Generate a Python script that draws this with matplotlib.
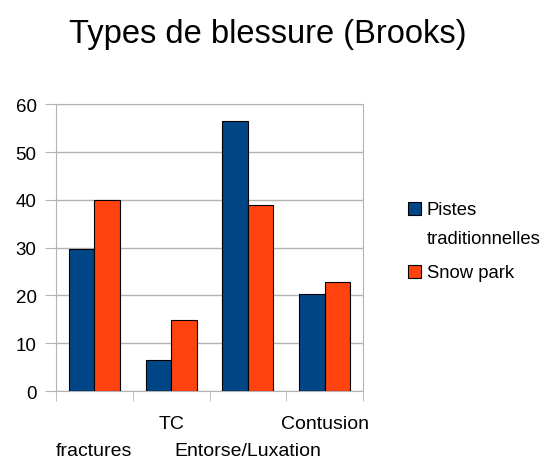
import matplotlib.pyplot as plt
from matplotlib.patches import Rectangle
import numpy as np

plt.rcParams['font.family'] = ['Liberation Sans', 'DejaVu Sans']

categories = ["fractures", "TC", "Entorse/Luxation", "Contusion"]
pistes = [29.8, 6.6, 56.4, 20.3]
snow_park = [39.9, 14.8, 39.0, 22.9]
series_labels = ["Pistes\ntraditionnelles", "Snow park"]
yticks = [0, 10, 20, 30, 40, 50, 60]

BLUE = "#004586"
ORANGE = "#ff420e"
GRID = "#b3b3b3"

fig = plt.figure(figsize=(5.47, 4.64), dpi=100)
ax = fig.add_axes([0.1024, 0.155, 0.5612, 0.6183])

x = np.arange(len(categories))
w = 0.333
ax.bar(x - w / 2, pistes, w, color=BLUE, edgecolor="black", linewidth=0.8, zorder=3)
ax.bar(x + w / 2, snow_park, w, color=ORANGE, edgecolor="black", linewidth=0.8, zorder=3)

ax.set_xlim(-0.5, len(categories) - 0.5)
ax.set_ylim(0, 60)
ax.set_yticks(yticks)
ax.yaxis.grid(True, color=GRID, linewidth=1, zorder=0)
ax.tick_params(axis="y", direction="out", length=8, color=GRID, labelsize=13.5, pad=6)

# category labels in two staggered rows, boundary ticks as minor ticks
ax.set_xticks(x)
ax.set_xticklabels(categories, fontsize=14)
ax.tick_params(axis="x", which="major", length=0)
for i, tick in enumerate(ax.xaxis.get_major_ticks()):
    tick.set_pad(37 if i % 2 == 0 else 17)
ax.set_xticks(np.arange(len(categories) + 1) - 0.5, minor=True)
ax.tick_params(axis="x", which="minor", direction="out", length=7, color=GRID)

for side in ["left", "right", "top", "bottom"]:
    ax.spines[side].set_color(GRID)

fig.suptitle("Types de blessure (Brooks)", x=0.49, y=0.96, fontsize=23.5)

# legend drawn by hand: square aligned with the first line of each label
W, H = 547, 464
legend_rows = [(series_labels[0], BLUE, 203), (series_labels[1], ORANGE, 266)]
for label, color, top in legend_rows:
    fig.patches.append(Rectangle((408 / W, 1 - (top + 13) / H), 13 / W, 13 / H,
                                 transform=fig.transFigure, facecolor=color,
                                 edgecolor="black", linewidth=0.8))
    fig.text(427 / W, 1 - (top - 1) / H, label, fontsize=13.3, va="top", ha="left",
             linespacing=1.95)

fig.savefig("out.png", dpi=100)
